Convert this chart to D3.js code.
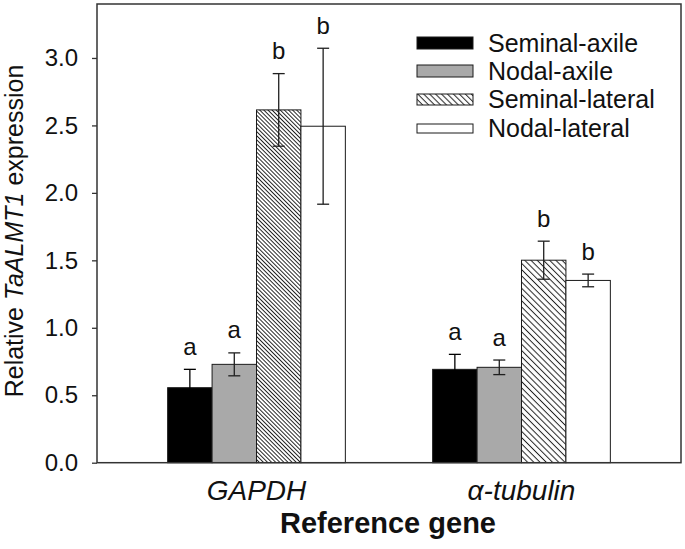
<!DOCTYPE html>
<html>
<head>
<meta charset="utf-8">
<script src="https://cdn.jsdelivr.net/npm/d3@7/dist/d3.min.js"></script>
<style>
  html, body { margin: 0; padding: 0; background: #fff; }
  svg { display: block; font-family: "Liberation Sans", Arial, sans-serif; }
</style>
</head>
<body>
<svg id="chart" width="685" height="549"></svg>
<script>
// ---- data ----
const genes = ["GAPDH", "α-tubulin"];
const seriesNames = ["Seminal-axile", "Nodal-axile", "Seminal-lateral", "Nodal-lateral"];
const seminalAxile = [0.556, 0.692];
const nodalAxile = [0.729, 0.707];
const seminalLateral = [2.615, 1.501];
const nodalLateral = [2.494, 1.351];
const seminalAxileErr = [0.136, 0.111];
const nodalAxileErr = [0.085, 0.054];
const seminalLateralErr = [0.269, 0.141];
const nodalLateralErr = [0.578, 0.047];
const seminalAxileLetters = ["a", "a"];
const nodalAxileLetters = ["a", "a"];
const seminalLateralLetters = ["b", "b"];
const nodalLateralLetters = ["b", "b"];
const yTicks = [0.0, 0.5, 1.0, 1.5, 2.0, 2.5, 3.0];

const means = [seminalAxile, nodalAxile, seminalLateral, nodalLateral];
const errs = [seminalAxileErr, nodalAxileErr, seminalLateralErr, nodalLateralErr];
const letters = [seminalAxileLetters, nodalAxileLetters, seminalLateralLetters, nodalLateralLetters];

const rows = [];
genes.forEach((g, gi) => {
  seriesNames.forEach((s, si) => {
    rows.push({ gene: g, gi, series: s, si, value: means[si][gi], err: errs[si][gi], letter: letters[si][gi] });
  });
});

// ---- layout ----
const svg = d3.select("#chart");
const pLeft = 97, pRight = 681, pTop = 4, pBottom = 462.7;

const defs = svg.append("defs");
function hatch(id, spacing) {
  const p = defs.append("pattern")
    .attr("id", id)
    .attr("patternUnits", "userSpaceOnUse")
    .attr("width", spacing).attr("height", 10)
    .attr("patternTransform", "rotate(-45)");
  p.append("rect").attr("width", spacing).attr("height", 10).attr("fill", "#fff");
  p.append("line").attr("x1", spacing / 2).attr("x2", spacing / 2)
    .attr("y1", 0).attr("y2", 10).attr("stroke", "#222").attr("stroke-width", 1);
}
hatch("hatchA", 2.9);
hatch("hatchB", 4.4);
hatch("hatchL", 4.2);

const fills = ["#000000", "#a9a9a9", null, "#ffffff"];
function fillFor(si, gi) {
  if (si === 2) return gi === 0 ? "url(#hatchA)" : "url(#hatchB)";
  return fills[si];
}

const y = d3.scaleLinear().domain([0, 3.4]).range([pBottom, pTop]);
const x0 = d3.scaleBand().domain(genes).range([pLeft, pRight])
  .paddingInner(0.3294).paddingOuter(0.2666);
const x1 = d3.scaleBand().domain(seriesNames).range([0, x0.bandwidth()]).padding(0);

// bars
svg.append("g").selectAll("rect").data(rows).join("rect")
  .attr("x", d => x0(d.gene) + x1(d.series))
  .attr("y", d => y(d.value))
  .attr("width", x1.bandwidth())
  .attr("height", d => y(0) - y(d.value))
  .attr("fill", d => fillFor(d.si, d.gi))
  .attr("stroke", "#1a1a1a")
  .attr("stroke-width", 1);

// error bars
const eg = svg.append("g").attr("stroke-width", 1.3);
rows.forEach(d => {
  const cx = x0(d.gene) + x1(d.series) + x1.bandwidth() / 2;
  const y1 = y(d.value + d.err), y2 = y(d.value - d.err);
  const col = d.si === 0 ? "#000" : "#1f1f1f";
  eg.append("line").attr("stroke", col).attr("x1", cx).attr("x2", cx).attr("y1", y1).attr("y2", y2);
  eg.append("line").attr("stroke", col).attr("x1", cx - 6).attr("x2", cx + 6).attr("y1", y1).attr("y2", y1);
  eg.append("line").attr("stroke", col).attr("x1", cx - 6).attr("x2", cx + 6).attr("y1", y2).attr("y2", y2);
});

// letters
svg.append("g").selectAll("text").data(rows).join("text")
  .attr("x", d => x0(d.gene) + x1(d.series) + x1.bandwidth() / 2)
  .attr("y", d => y(d.value + d.err) - 14.5)
  .attr("text-anchor", "middle")
  .attr("font-size", 24)
  .attr("fill", "#111")
  .text(d => d.letter);

// frame
svg.append("rect")
  .attr("x", pLeft).attr("y", pTop)
  .attr("width", pRight - pLeft).attr("height", pBottom - pTop)
  .attr("fill", "none").attr("stroke", "#333").attr("stroke-width", 1.5);

// y axis
const yAxis = svg.append("g").attr("transform", `translate(${pLeft},0)`)
  .call(d3.axisLeft(y).tickValues(yTicks).tickFormat(d3.format(".1f"))
    .tickSize(5).tickSizeOuter(0).tickPadding(14));
yAxis.select(".domain").remove();
yAxis.selectAll("line").attr("stroke", "#333").attr("stroke-width", 1.3);
yAxis.selectAll("text").attr("font-size", 24).attr("fill", "#111")
  .attr("font-family", "'Liberation Sans', Arial, sans-serif");

// x axis
const xAxis = svg.append("g").attr("transform", `translate(0,${pBottom})`)
  .call(d3.axisBottom(x0).tickSize(0).tickPadding(17));
xAxis.select(".domain").remove();
xAxis.selectAll("text").attr("font-size", 28).attr("font-style", "italic").attr("fill", "#111")
  .attr("font-family", "'Liberation Sans', Arial, sans-serif");

// axis titles
const yt = svg.append("text")
  .attr("transform", "translate(23,231) rotate(-90)")
  .attr("text-anchor", "middle")
  .attr("font-size", 25)
  .attr("fill", "#111");
yt.append("tspan").text("Relative ");
yt.append("tspan").attr("font-style", "italic").text("TaALMT1");
yt.append("tspan").text(" expression");

svg.append("text")
  .attr("x", 388).attr("y", 533)
  .attr("text-anchor", "middle")
  .attr("font-size", 29).attr("font-weight", "bold")
  .attr("fill", "#111")
  .text("Reference gene");

// legend
const legendY = [43, 71, 99.5, 128.5];
const legendH = [12, 12, 11, 9];
const lg = svg.append("g");
seriesNames.forEach((s, si) => {
  lg.append("rect")
    .attr("x", 417).attr("y", legendY[si] - legendH[si] / 2)
    .attr("width", 56).attr("height", legendH[si])
    .attr("fill", si === 2 ? "url(#hatchL)" : fills[si])
    .attr("stroke", "#1a1a1a").attr("stroke-width", 1);
  lg.append("text")
    .attr("x", 488).attr("y", legendY[si] + 8.8)
    .attr("font-size", 25).attr("fill", "#111")
    .text(s);
});
</script>
</body>
</html>
